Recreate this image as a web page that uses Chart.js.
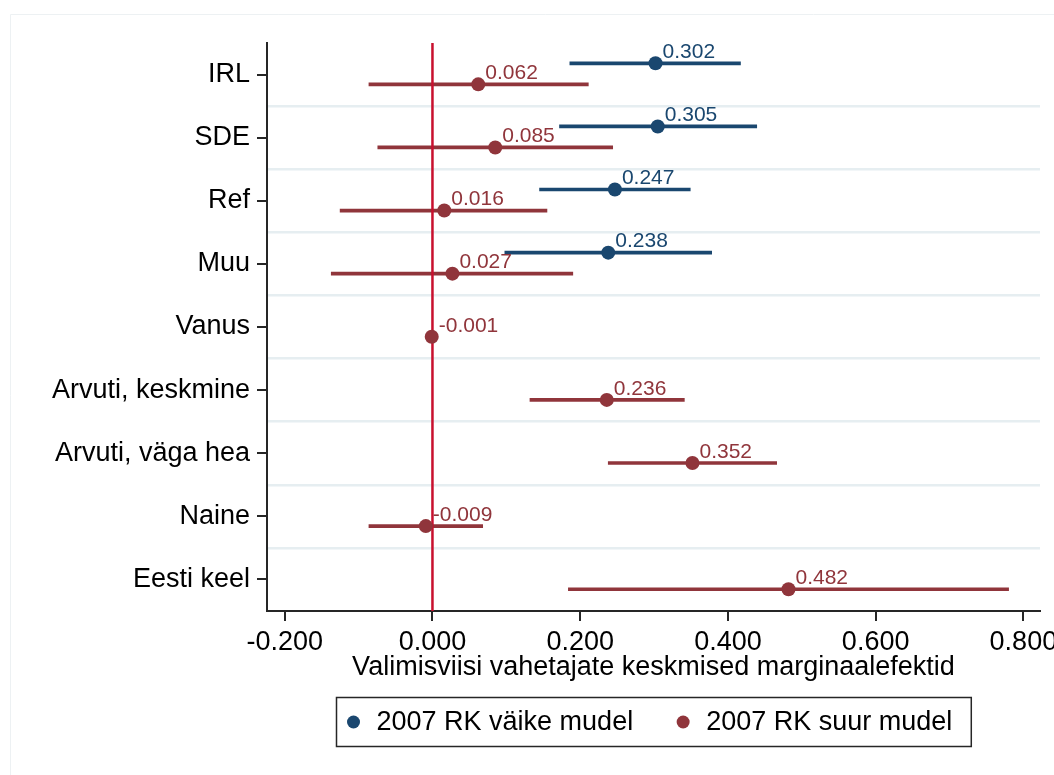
<!DOCTYPE html>
<html>
<head>
<meta charset="utf-8">
<script src="https://cdn.jsdelivr.net/npm/chart.js@4.4.1/dist/chart.umd.min.js"></script>
<style>
  html, body { margin: 0; padding: 0; background: #fff; overflow: hidden; }
  #wrap { width: 1080px; height: 775px; }
</style>
</head>
<body>
<div id="wrap"><canvas id="chart" width="1080" height="775"></canvas></div>
<script>
// rows, top to bottom
const categories = ['IRL', 'SDE', 'Ref', 'Muu', 'Vanus', 'Arvuti, keskmine', 'Arvuti, väga hea', 'Naine', 'Eesti keel'];
const seriesNames = ['2007 RK väike mudel', '2007 RK suur mudel'];

// 2007 RK väike mudel: estimate + CI
const smallEst = [0.302, 0.305, 0.247, 0.238, null, null, null, null, null];
const smallLo = [0.186, 0.172, 0.145, 0.098, null, null, null, null, null];
const smallHi = [0.417, 0.439, 0.349, 0.378, null, null, null, null, null];

// 2007 RK suur mudel: estimate + CI
const bigEst = [0.062, 0.085, 0.016, 0.027, -0.001, 0.236, 0.352, -0.009, 0.482];
const bigLo = [-0.086, -0.074, -0.125, -0.137, -0.003, 0.132, 0.238, -0.086, 0.184];
const bigHi = [0.211, 0.244, 0.155, 0.190, 0.001, 0.341, 0.466, 0.068, 0.780];

const xTicks = [-0.2, 0, 0.2, 0.4, 0.6, 0.8];
const xTitle = 'Valimisviisi vahetajate keskmised marginaalefektid';

const FONT = '"Liberation Sans", Arial, Helvetica, sans-serif';
const FS = 27;
const BLUE = '#1a476f';
const RED = '#90353b';
const ZERO = '#c8102e';
const AXIS = '#262626';
const GRID = '#e6eef1';

// where the two markers sit inside a row (row units)
const SMALL_SHIFT = -0.178;
const BIG_SHIFT = 0.155;

function ciData(lo, hi, shift) {
    const out = [];
    categories.forEach((c, i) => {
        if (lo[i] === null) return;
        out.push({ x: [lo[i], hi[i]], y: i + shift });
    });
    return out;
}

function pointData(est, shift) {
    const out = [];
    categories.forEach((c, i) => {
        if (est[i] === null) return;
        out.push({ x: est[i], y: i + shift });
    });
    return out;
}

// faint frame of the graph region
const frame = {
    id: 'frame',
    beforeDraw(chart) {
        const ctx = chart.ctx;
        ctx.save();
        ctx.strokeStyle = '#edf1f3';
        ctx.lineWidth = 1;
        ctx.beginPath();
        ctx.moveTo(10.5, 780);
        ctx.lineTo(10.5, 14.5);
        ctx.lineTo(1100, 14.5);
        ctx.stroke();
        ctx.restore();
    }
};

// numbers next to the markers
const valueLabels = {
    id: 'valueLabels',
    afterDatasetsDraw(chart) {
        const ctx = chart.ctx;
        ctx.save();
        ctx.font = '21px ' + FONT;
        ctx.textAlign = 'left';
        ctx.textBaseline = 'middle';
        chart.data.datasets.forEach((ds, i) => {
            if (!ds.showValues) return;
            const meta = chart.getDatasetMeta(i);
            ctx.fillStyle = ds.backgroundColor;
            meta.data.forEach((el, j) => {
                ctx.fillText(ds.data[j].x.toFixed(3), el.x + 7, el.y - 11);
            });
        });
        ctx.restore();
    }
};

// boxed legend under the axis title
const boxLegend = {
    id: 'boxLegend',
    afterDraw(chart) {
        const { ctx, chartArea } = chart;
        const items = chart.data.datasets.filter(ds => ds.showValues);
        ctx.save();
        ctx.font = FS + 'px ' + FONT;
        const padL = 17, dotText = 23, gap = 50, padR = 19;
        const widths = items.map(ds => ctx.measureText(ds.label).width);
        let total = padL + padR + gap * (items.length - 1);
        widths.forEach(w => total += dotText + w);
        const cx = (chartArea.left + chartArea.right) / 2;
        const left = Math.round(cx - total / 2) + 0.5;
        const top = chartArea.bottom + 86.5;
        const h = 49;
        ctx.strokeStyle = AXIS;
        ctx.lineWidth = 1.5;
        ctx.strokeRect(left, top, total, h);
        const cy = top + h / 2;
        let x = left + padL;
        ctx.textAlign = 'left';
        ctx.textBaseline = 'middle';
        items.forEach((ds, i) => {
            ctx.fillStyle = ds.backgroundColor;
            ctx.beginPath();
            ctx.arc(x, cy, 6.5, 0, Math.PI * 2);
            ctx.fill();
            ctx.fillStyle = '#000';
            ctx.fillText(ds.label, x + dotText, cy + 1);
            x += dotText + widths[i] + gap;
        });
        ctx.restore();
    }
};

const ctx = document.getElementById('chart');
const myChart = new Chart(ctx, {
    type: 'bar',
    data: {
        datasets: [
            {
                type: 'scatter',
                label: seriesNames[0],
                data: pointData(smallEst, SMALL_SHIFT),
                backgroundColor: BLUE,
                borderWidth: 0,
                pointRadius: 7,
                showValues: true,
                order: 1
            },
            {
                type: 'scatter',
                label: seriesNames[1],
                data: pointData(bigEst, BIG_SHIFT),
                backgroundColor: RED,
                borderWidth: 0,
                pointRadius: 7,
                showValues: true,
                order: 1
            },
            {
                type: 'line',
                label: 'zero',
                data: [{ x: 0, y: -0.5 }, { x: 0, y: categories.length - 0.5 }],
                borderColor: ZERO,
                borderWidth: 2.5,
                pointRadius: 0,
                order: 2
            },
            {
                label: 'ci small',
                data: ciData(smallLo, smallHi, SMALL_SHIFT),
                backgroundColor: BLUE,
                barThickness: 3,
                grouped: false,
                order: 3
            },
            {
                label: 'ci big',
                data: ciData(bigLo, bigHi, BIG_SHIFT),
                backgroundColor: RED,
                barThickness: 3,
                grouped: false,
                order: 3
            }
        ]
    },
    options: {
        indexAxis: 'y',
        responsive: false,
        animation: false,
        events: [],
        layout: { padding: { top: 43, right: 40, bottom: 94, left: 0 } },
        scales: {
            x: {
                type: 'linear',
                position: 'bottom',
                min: -0.224,
                max: 0.8225,
                offset: false,
                afterBuildTicks: (scale) => { scale.ticks = xTicks.map(v => ({ value: v })); },
                afterFit: (scale) => { scale.height = 70; },
                ticks: {
                    padding: 8,
                    color: '#000',
                    font: { family: FONT, size: FS, lineHeight: 1 },
                    maxRotation: 0,
                    callback: (v) => Number(v).toFixed(3)
                },
                grid: { offset: false, drawOnChartArea: false, tickLength: 10, color: AXIS, lineWidth: 2 },
                border: { color: AXIS, width: 2 },
                title: {
                    display: true,
                    text: xTitle,
                    color: '#000',
                    font: { family: FONT, size: FS, lineHeight: 1 },
                    padding: { top: 0, bottom: 0 }
                }
            },
            y: {
                type: 'linear',
                position: 'left',
                reverse: true,
                min: -0.5,
                max: categories.length - 0.5,
                offset: false,
                afterBuildTicks: (scale) => { scale.ticks = categories.map((c, i) => ({ value: i })); },
                afterFit: (scale) => { scale.width = 267; },
                ticks: {
                    padding: 7,
                    color: '#000',
                    font: { family: FONT, size: FS },
                    callback: (v) => categories[v]
                },
                grid: { offset: false, drawOnChartArea: false, tickLength: 10, color: AXIS, lineWidth: 2 },
                border: { color: AXIS, width: 2 }
            },
            yg: {
                type: 'linear',
                position: 'left',
                reverse: true,
                min: -0.5,
                max: categories.length - 0.5,
                offset: false,
                afterBuildTicks: (scale) => {
                    scale.ticks = categories.slice(1).map((c, i) => ({ value: i + 0.5 }));
                },
                afterFit: (scale) => { scale.width = 0; },
                ticks: { display: false },
                grid: { offset: false, drawTicks: false, color: GRID, lineWidth: 2.5 },
                border: { display: false }
            }
        },
        plugins: {
            legend: { display: false },
            tooltip: { enabled: false }
        }
    },
    plugins: [frame, valueLabels, boxLegend]
});
</script>
</body>
</html>
